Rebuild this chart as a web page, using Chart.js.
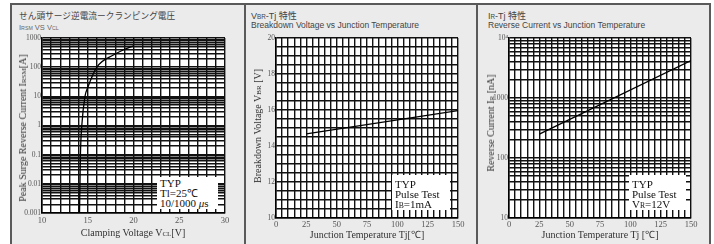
<!DOCTYPE html>
<html><head><meta charset="utf-8">
<script src="https://cdn.jsdelivr.net/npm/chart.js@4.4.1/dist/chart.umd.min.js"></script>
<style>
html,body{margin:0;padding:0;background:#fff;}
body{width:714px;height:244px;position:relative;overflow:hidden;font-family:"Liberation Sans",Arial,sans-serif;}
#frame{position:absolute;left:10px;top:3px;width:701px;height:270px;box-sizing:border-box;border:2px solid #5a5a5a;background:#ebebeb;}
.sep{position:absolute;top:3px;width:2px;height:270px;background:#5a5a5a;}
.ttl{position:absolute;white-space:nowrap;color:#444;line-height:1;transform:translateY(-50%);}
canvas{position:absolute;}
.yt,.xt{position:absolute;white-space:nowrap;font-family:"Liberation Serif",serif;font-size:10px;color:#333;line-height:1;}
.yt{transform:translate(-50%,-50%) rotate(-90deg);}
.xt{transform:translate(-50%,-50%);}
.sc{font-size:70%;}
.box{position:absolute;background:#fff;font-family:"Liberation Serif",serif;font-size:11px;color:#111;box-sizing:border-box;padding-left:3px;white-space:nowrap;}
.box div{height:10px;line-height:10px;}
</style>
</head><body>
<div id="frame"></div>
<div class="sep" style="left:244px"></div>
<div class="sep" style="left:476px"></div>

<div class="ttl" style="left:19px;top:16px;font-family:'Noto Sans CJK JP';font-size:8.7px;">せん頭サージ逆電流ークランピング電圧</div>
<div class="ttl" style="left:19px;top:28px;font-size:7.5px;color:#666;">I<span class="sc">RSM</span> VS V<span class="sc">CL</span></div>

<div class="ttl" style="left:251px;top:16px;font-size:9px;">V<span class="sc">BR</span>-Tj <span style="font-family:'Noto Sans CJK JP'">特性</span></div>
<div class="ttl" style="left:251px;top:25px;font-size:8.5px;">Breakdown Voltage vs Junction Temperature</div>

<div class="ttl" style="left:488px;top:16px;font-size:9px;">I<span class="sc">R</span>-Tj <span style="font-family:'Noto Sans CJK JP'">特性</span></div>
<div class="ttl" style="left:488px;top:25px;font-size:8.5px;">Reverse Current vs Junction Temperature</div>

<canvas id="c1" width="232" height="214" style="left:12px;top:28px"></canvas>
<canvas id="c2" width="228" height="214" style="left:247px;top:28px"></canvas>
<canvas id="c3" width="229" height="214" style="left:479px;top:28px"></canvas>

<div class="yt" style="left:23px;top:128px;">Peak Surge Reverse Current I<span class="sc">RSM</span>[A]</div>
<div class="xt" style="left:133px;top:233px;">Clamping Voltage V<span class="sc">CL</span>[V]</div>
<div class="yt" style="left:258px;top:126px;">Breakdown Voltage V<span class="sc">BR</span> [V]</div>
<div class="xt" style="left:367px;top:235px;">Junction Temperature Tj[℃]</div>
<div class="yt" style="left:491px;top:123px;">Reverse Current I<span class="sc">R</span> [nA]</div>
<div class="xt" style="left:600px;top:235px;">Junction Temperature Tj [℃]</div>

<div class="box" style="left:157px;top:177px;width:61px;height:32px;padding-top:1px;">
  <div>TYP</div><div>Tl=25℃</div><div>10/1000 <i>μ</i>s</div>
</div>
<div class="box" style="left:392px;top:175px;width:58px;height:35px;padding-top:4px;">
  <div>TYP</div><div>Pulse Test</div><div>I<span class="sc">B</span>=1mA</div>
</div>
<div class="box" style="left:629px;top:175px;width:57px;height:35px;padding-top:4px;">
  <div>TYP</div><div>Pulse Test</div><div>V<span class="sc">R</span>=12V</div>
</div>

<script>
// ---- data ----
// Panel 1: Peak surge reverse current vs clamping voltage
const clampVoltage = [14.1, 14.15, 14.2, 14.35, 14.7, 15.0, 16.0, 17.8, 19.1, 20.0];
const surgeCurrent = [0.001, 0.01, 0.1, 1, 10, 20, 100, 260, 420, 540];
const surgeDecades = [0.001, 0.01, 0.1, 1, 10, 100, 1000];
const surgeDecadeLabels = ['0.001', '0.01', '0.1', '1', '10', '100', '1000'];
const clampRange = [10, 30];
const clampLabelEvery = 5;

// Panel 2: Breakdown voltage vs junction temperature
const bvTemp = [25, 150];
const bvVoltage = [14.67, 15.97];
const bvRange = [10, 20];
const bvGridStep = 0.5;
const bvLabelEvery = 2;

// Panel 3: Reverse current vs junction temperature
const irTemp = [25, 150];
const irCurrent = [250, 4200];
const irDecades = [10, 100, 1000, 10000];
const irDecadeLabels = ['10', '100', '1000', '10⁴'];

// shared temperature axis
const tempRange = [0, 150];
const tempGridStep = 5;
const tempLabelEvery = 25;

const logSteps = [1, 2, 3, 4, 5, 6, 7, 8, 9];

function logGrid(decades) {
  const out = [];
  decades.forEach((d, i) => {
    if (i < decades.length - 1) logSteps.forEach(m => out.push(+(d * m).toPrecision(6)));
    else out.push(d);
  });
  return out;
}
function linGrid(lo, hi, step) {
  const out = [];
  const n = Math.round((hi - lo) / step);
  for (let i = 0; i <= n; i++) out.push(+(lo + i * step).toFixed(6));
  return out;
}
function isMult(v, m) { return Math.abs(v / m - Math.round(v / m)) < 1e-6; }

const whiteArea = {
  id: 'whiteArea',
  beforeDraw(chart) {
    const a = chart.chartArea, ctx = chart.ctx;
    ctx.save(); ctx.fillStyle = '#fff';
    ctx.fillRect(a.left, a.top, a.right - a.left, a.bottom - a.top);
    ctx.restore();
  }
};

const gridStyle = {color: '#111', lineWidth: 1.4, drawTicks: false};
const borderStyle = {color: '#000', width: 1.5};

function makeChart(id, c) {
  return new Chart(document.getElementById(id), {
    type: 'line',
    data: {datasets: [{
      data: c.xs.map((x, i) => ({x: x, y: c.ys[i]})),
      borderColor: '#000', borderWidth: 1.3, pointRadius: 0, fill: false,
      cubicInterpolationMode: c.smooth ? 'monotone' : 'default', tension: 0
    }]},
    options: {
      responsive: false, animation: false, devicePixelRatio: 1,
      layout: {padding: {top: c.padTop, right: c.padRight, left: 0, bottom: 0}},
      plugins: {legend: {display: false}, tooltip: {enabled: false}},
      scales: {
        x: {
          type: 'linear', min: c.xMin, max: c.xMax,
          afterBuildTicks: s => { s.ticks = c.xGrid.map(v => ({value: v})); },
          afterFit: s => { s.height = c.xH; },
          grid: gridStyle, border: borderStyle,
          ticks: {autoSkip: false, maxRotation: 0, padding: c.xPad, color: '#555',
            font: {family: 'Liberation Serif', size: 8.5},
            callback: v => c.xLabel(v)}
        },
        y: {
          type: c.yType, min: c.yMin, max: c.yMax,
          afterBuildTicks: s => { s.ticks = c.yGrid.map(v => ({value: v})); },
          afterFit: s => { s.width = c.yW; },
          grid: gridStyle, border: borderStyle,
          ticks: {autoSkip: false, padding: 1, color: '#555',
            font: {family: 'Liberation Serif', size: 7.5},
            callback: v => c.yLabel(v)}
        }
      }
    },
    plugins: [whiteArea]
  });
}

function decadeLabel(decades, labels) {
  return v => {
    const i = decades.findIndex(d => Math.abs(d - v) / d < 1e-6);
    return i >= 0 ? labels[i] : '';
  };
}

makeChart('c1', {
  xs: clampVoltage, ys: surgeCurrent, smooth: true,
  padTop: 10, padRight: 19, xH: 29, yW: 30, xPad: 3,
  xMin: clampRange[0], xMax: clampRange[1], xGrid: linGrid(clampRange[0], clampRange[1], 1),
  xLabel: v => isMult(v, clampLabelEvery) ? String(v) : '',
  yType: 'logarithmic', yMin: surgeDecades[0], yMax: surgeDecades[surgeDecades.length - 1],
  yGrid: logGrid(surgeDecades), yLabel: decadeLabel(surgeDecades, surgeDecadeLabels)
});

makeChart('c2', {
  xs: bvTemp, ys: bvVoltage, smooth: false,
  padTop: 10, padRight: 17, xH: 24, yW: 29, xPad: 2,
  xMin: tempRange[0], xMax: tempRange[1], xGrid: linGrid(tempRange[0], tempRange[1], tempGridStep),
  xLabel: v => isMult(v, tempLabelEvery) ? String(v) : '',
  yType: 'linear', yMin: bvRange[0], yMax: bvRange[1],
  yGrid: linGrid(bvRange[0], bvRange[1], bvGridStep),
  yLabel: v => isMult(v, bvLabelEvery) ? String(v) : ''
});

makeChart('c3', {
  xs: irTemp, ys: irCurrent, smooth: false,
  padTop: 10, padRight: 17, xH: 24, yW: 30, xPad: 2,
  xMin: tempRange[0], xMax: tempRange[1], xGrid: linGrid(tempRange[0], tempRange[1], tempGridStep),
  xLabel: v => isMult(v, tempLabelEvery) ? String(v) : '',
  yType: 'logarithmic', yMin: irDecades[0], yMax: irDecades[irDecades.length - 1],
  yGrid: logGrid(irDecades), yLabel: decadeLabel(irDecades, irDecadeLabels)
});
</script>
</body></html>
